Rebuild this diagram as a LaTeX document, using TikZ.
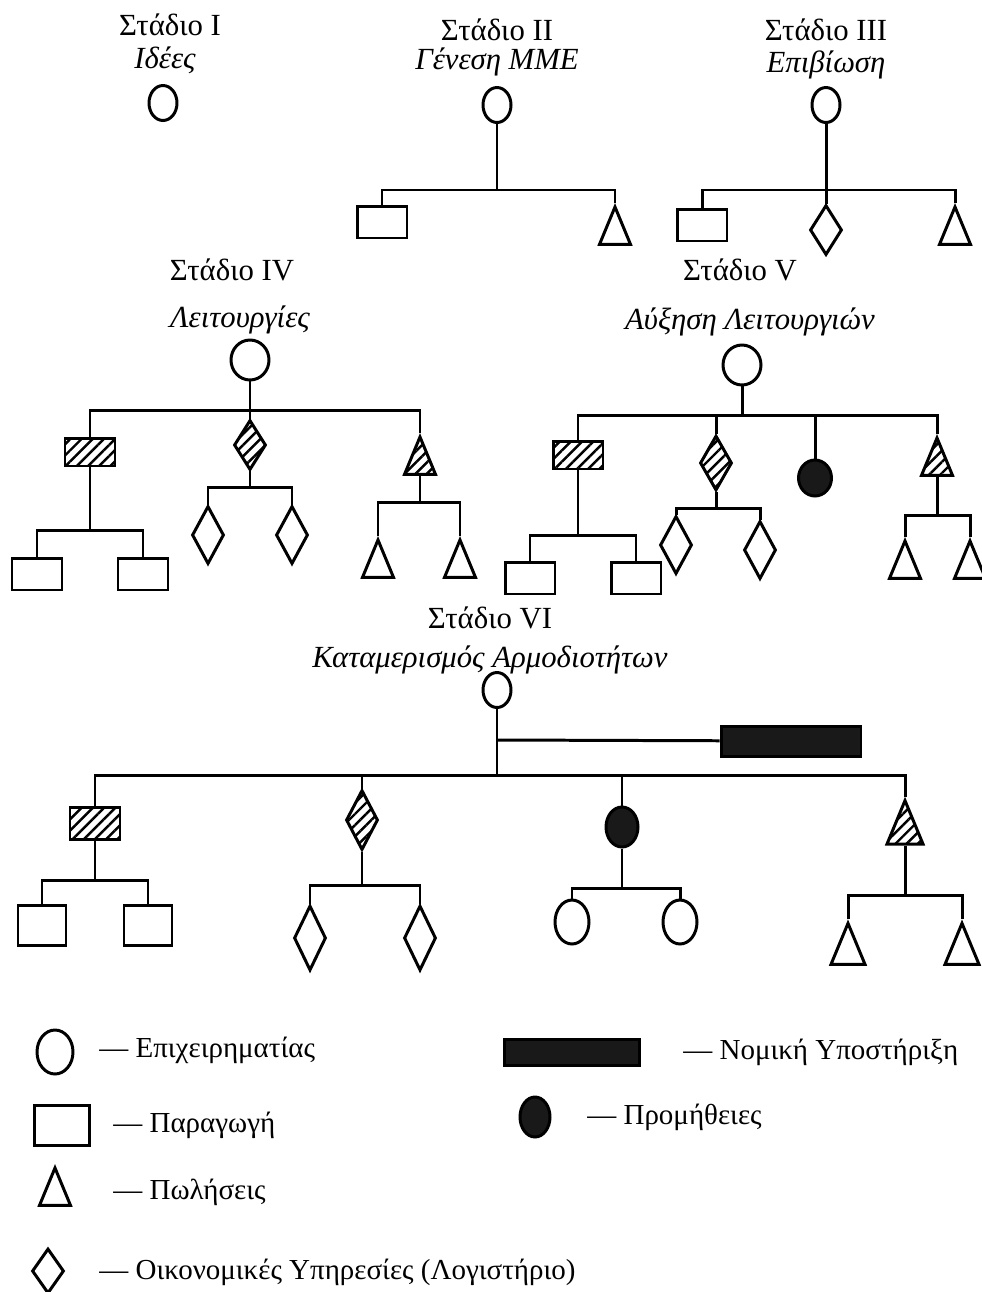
\documentclass[tikz,border=0pt]{standalone}
\usepackage{fontspec}
\setmainfont{Liberation Serif}
\usetikzlibrary{shapes.geometric,patterns.meta}

\begin{document}
\begin{tikzpicture}[x=0.02cm,y=-0.02cm,line width=1.7pt,
  font=\fontsize{17.5}{21}\selectfont,
  ent/.style={ellipse,draw,inner sep=0,minimum width=0.56cm,minimum height=0.7cm},
  prod/.style={rectangle,draw,inner sep=0,minimum width=1cm,minimum height=0.64cm},
  fin/.style={diamond,draw,inner sep=0,minimum width=0.64cm,minimum height=1.1cm},
  sale/.style={isosceles triangle,isosceles triangle apex angle=45,shape border rotate=90,draw,inner sep=0,minimum size=0.62cm},
  hatch/.style={pattern={Lines[angle=45,distance=4.5pt,line width=1.4pt]}},
  supply/.style={ellipse,draw,fill=black!90,inner sep=0,minimum width=0.66cm,minimum height=0.72cm},
  legal/.style={rectangle,draw,fill=black!90,inner sep=0,minimum width=2.8cm,minimum height=0.6cm},
  legtext/.style={anchor=west,font=\fontsize{16.5}{20}\selectfont}]
\useasboundingbox (0,0) rectangle (982,1292);

% Stadio I
\node (t1) at (170,25) {Στάδιο I};
\node (n1) at (165,60) {\itshape Ιδέες};
\node (v1) at (163,103) [ent] {};

% Stadio II
\node (t2) at (497,30) {Στάδιο II};
\node (n2) at (497,62) {\itshape Γένεση ΜΜΕ};
\node (v2) at (497,105) [ent] {};
\coordinate (b2) at (497,190);
\node (v2p) at (382,222) [prod] {};
\node (v2s) at (615,234) [sale] {};

\draw (v2) -- (b2);
\draw (v2p) |- (b2) -| (v2s);

% Stadio III
\node (t3) at (826,30) {Στάδιο III};
\node (n3) at (826,65) {\itshape Επιβίωση};
\node (v3) at (826,105) [ent] {};
\coordinate (b3) at (826,190);
\node (v3p) at (702,225) [prod] {};
\node (v3f) at (826,230) [fin,minimum height=1cm] {};
\node (v3s) at (955,234) [sale] {};

\draw (v3) -- (v3f);
\draw (v3p) |- (b3) -| (v3s);

% Stadio IV
\node (t4) at (232,270) {Στάδιο IV};
\node (n4) at (240,320) {\itshape Λειτουργίες};
\node (v4) at (250,360) [ent,minimum width=0.76cm,minimum height=0.8cm] {};
\coordinate (b4) at (250,410);
\node (v4p) at (90,452) [prod,hatch,minimum height=0.56cm] {};
\node (v4f) at (250,445) [fin,hatch,minimum height=1cm] {};
\node (v4s) at (420,464) [sale,hatch] {};
\coordinate (b4p) at (90,530);
\node (v4p1) at (37,574) [prod] {};
\node (v4p2) at (143,574) [prod] {};
\coordinate (b4f) at (250,487);
\node (v4f1) at (208,535) [fin,minimum height=1.16cm] {};
\node (v4f2) at (292,535) [fin,minimum height=1.16cm] {};
\coordinate (b4s) at (420,502);
\node (v4s1) at (378,567) [sale] {};
\node (v4s2) at (460,567) [sale] {};

\draw (v4) -- (b4);
\draw (v4p) |- (b4) -| (v4s);
\draw (b4) -- (v4f);
\draw (v4p) -- (b4p);
\draw (v4p1) |- (b4p) -| (v4p2);
\draw (v4f) -- (b4f);
\draw (v4f1) |- (b4f) -| (v4f2);
\draw (v4s) -- (b4s);
\draw (v4s1) |- (b4s) -| (v4s2);

% Stadio V
\node (t5) at (740,270) {Στάδιο V};
\node (n5) at (750,322) {\itshape Αύξηση Λειτουργιών};
\node (v5) at (742,365) [ent,minimum width=0.76cm,minimum height=0.8cm] {};
\coordinate (b5) at (742,415);
\node (v5p) at (578,455) [prod,hatch,minimum height=0.56cm] {};
\node (v5f) at (716,463) [fin,hatch,minimum height=1.1cm] {};
\node (v5m) at (815,478) [supply] {};
\node (v5s) at (937,465) [sale,hatch] {};
\coordinate (b5p) at (578,535);
\node (v5p1) at (530,578) [prod] {};
\node (v5p2) at (636,578) [prod] {};
\coordinate (b5f) at (716,508);
\node (v5f1) at (676,545) [fin,minimum height=1.16cm] {};
\node (v5f2) at (760,550) [fin,minimum height=1.16cm] {};
\coordinate (b5s) at (937,515);
\node (v5s1) at (905,568) [sale] {};
\node (v5s2) at (970,568) [sale] {};

\draw (v5) -- (b5);
\draw (v5p) |- (b5) -| (v5s);
\draw (v5f) -- (v5f |- b5);
\draw (v5m) -- (v5m |- b5);
\draw (v5p) -- (b5p);
\draw (v5p1) |- (b5p) -| (v5p2);
\draw (v5f) -- (b5f);
\draw (v5f1) |- (b5f) -| (v5f2);
\draw (v5s) -- (b5s);
\draw (v5s1) |- (b5s) -| (v5s2);

% Stadio VI
\node (t6) at (490,618) {Στάδιο VI};
\node (n6) at (490,660) {\itshape Καταμερισμός Αρμοδιοτήτων};
\node (v6) at (497,690) [ent] {};
\coordinate (j6) at (497,740);
\node (v6l) at (791,741) [legal] {};
\coordinate (b6) at (497,775);
\node (v6p) at (95,823) [prod,hatch] {};
\node (v6f) at (362,820) [fin,hatch,minimum height=1.2cm] {};
\node (v6m) at (622,827) [supply,minimum width=0.64cm,minimum height=0.8cm] {};
\node (v6s) at (905,832) [sale,hatch,minimum size=0.72cm] {};
\coordinate (b6p) at (95,880);
\node (v6p1) at (42,925) [prod,minimum width=0.96cm,minimum height=0.8cm] {};
\node (v6p2) at (148,925) [prod,minimum width=0.96cm,minimum height=0.8cm] {};
\coordinate (b6f) at (362,885);
\node (v6f1) at (310,938) [fin,minimum height=1.3cm] {};
\node (v6f2) at (420,938) [fin,minimum height=1.3cm] {};
\coordinate (b6m) at (622,888);
\node (v6m1) at (572,922) [ent,minimum width=0.68cm,minimum height=0.88cm] {};
\node (v6m2) at (680,922) [ent,minimum width=0.68cm,minimum height=0.88cm] {};
\coordinate (b6s) at (905,895);
\node (v6s1) at (848,953) [sale,minimum size=0.68cm] {};
\node (v6s2) at (962,953) [sale,minimum size=0.68cm] {};

\draw (v6) -- (b6);
\draw (j6) -- (v6l);
\draw (v6p) |- (b6) -| (v6s);
\draw (v6f) -- (v6f |- b6);
\draw (v6m) -- (v6m |- b6);
\draw (v6p) -- (b6p);
\draw (v6p1) |- (b6p) -| (v6p2);
\draw (v6f) -- (b6f);
\draw (v6f1) |- (b6f) -| (v6f2);
\draw (v6m) -- (b6m);
\draw (v6m1) |- (b6m) -| (v6m2);
\draw (v6s) -- (b6s);
\draw (v6s1) |- (b6s) -| (v6s2);

% legend
\node (k1) at (55,1052) [ent,minimum width=0.72cm,minimum height=0.88cm] {};
\node (k1t) at (92,1050) [legtext] {— Επιχειρηματίας};
\node (k2) at (62,1125) [prod,minimum width=1.1cm,minimum height=0.8cm] {};
\node (k2t) at (106,1125) [legtext] {— Παραγωγή};
\node (k3) at (55,1195) [sale] {};
\node (k3t) at (106,1192) [legtext] {— Πωλήσεις};
\node (k4) at (48,1271) [fin,minimum height=0.9cm] {};
\node (k4t) at (92,1272) [legtext] {— Οικονομικές Υπηρεσίες (Λογιστήριο)};
\node (k5) at (572,1052) [legal,minimum width=2.7cm,minimum height=0.52cm] {};
\node (k5t) at (676,1052) [legtext] {— Νομική Υποστήριξη};
\node (k6) at (535,1117) [supply,minimum width=0.6cm,minimum height=0.8cm] {};
\node (k6t) at (580,1117) [legtext] {— Προμήθειες};

\end{tikzpicture}
\end{document}
